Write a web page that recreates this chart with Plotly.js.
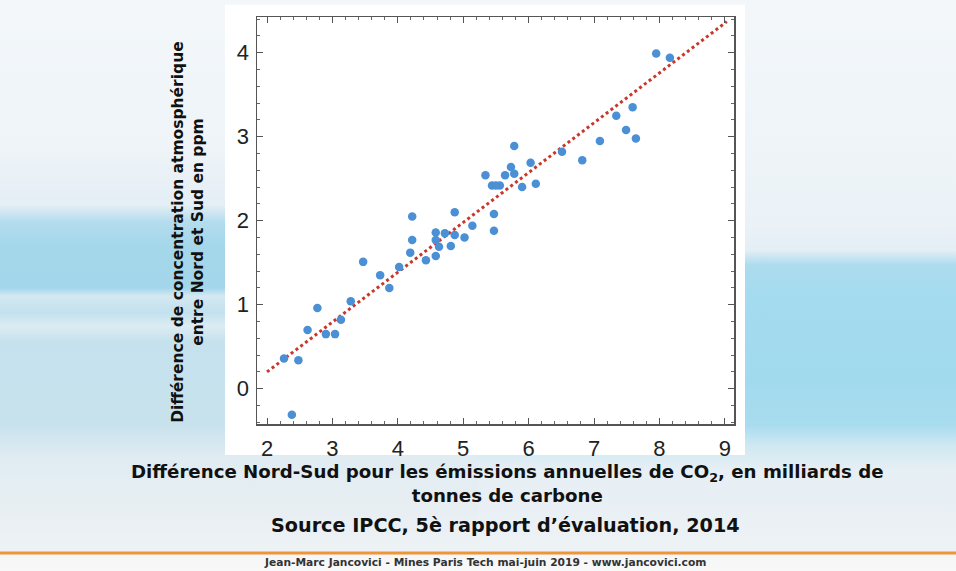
<!DOCTYPE html>
<html>
<head>
<meta charset="utf-8">
<script src="https://cdn.plot.ly/plotly-3.0.1.min.js"></script>
<style>
  html, body { margin: 0; padding: 0; }
  #chart {
    width: 956px; height: 571px;
    background-color: #eef3f6;
    background-image:
      linear-gradient(to bottom,
        #f3f7fa 0px, #eef4f8 150px, #e4eef5 205px, #b4dcee 222px,
        #a5d7eb 245px, #a3d6ea 288px, #d4e9f2 296px, #c2e1ee 312px,
        #dcecf3 326px, #c4e1ed 342px, #c6e2ee 380px, #c8e2ed 425px,
        #e0ecf2 458px, #e9eff3 520px, #edf2f5 550px, #f6f7f8 556px, #f8f8f8 571px),
      linear-gradient(to bottom,
        #f3f7fa 0px, #eef4f8 150px, #eaf2f7 225px, #e4eef5 250px, #acdcee 265px,
        #a4dbee 300px, #a2daed 380px, #a8dcee 425px, #cfe8f2 445px,
        #e6eff4 470px, #eaf0f4 520px, #edf2f5 550px, #f6f7f8 556px, #f8f8f8 571px);
    background-size: 478px 571px, 478px 571px;
    background-position: 0 0, 478px 0;
    background-repeat: no-repeat;
  }
</style>
</head>
<body>
<div id="chart"></div>
<script>
// Emissions difference North-South (GtC/yr)
const emissionsDiff = [7.95, 8.16, 7.59, 7.34, 7.49, 7.64, 7.09, 5.78, 6.51, 6.82,
  6.03, 5.73, 5.78, 5.64, 5.34, 5.44, 5.50, 5.56, 5.90, 6.11,
  4.22, 4.87, 5.47, 5.47, 5.14, 5.02, 4.87, 4.72, 4.58, 4.58,
  4.63, 4.81, 4.22, 4.19, 4.58, 4.43, 4.02, 3.47, 3.73, 3.87,
  3.28, 2.77, 3.13, 2.62, 2.90, 3.04, 2.26, 2.48, 2.38];
// Concentration difference North-South (ppm)
const concDiff = [3.99, 3.94, 3.35, 3.25, 3.08, 2.98, 2.95, 2.89, 2.82, 2.72,
  2.69, 2.64, 2.56, 2.54, 2.54, 2.42, 2.42, 2.42, 2.40, 2.44,
  2.05, 2.10, 2.08, 1.88, 1.94, 1.80, 1.83, 1.85, 1.86, 1.77,
  1.69, 1.70, 1.77, 1.62, 1.58, 1.53, 1.45, 1.51, 1.35, 1.20,
  1.04, 0.96, 0.82, 0.70, 0.65, 0.65, 0.36, 0.34, -0.31];
// Regression line end points
const fitX = [2.0, 9.03];
const fitY = [0.20, 4.37];
const xTickVals = [2, 3, 4, 5, 6, 7, 8, 9];
const yTickVals = [0, 1, 2, 3, 4];

const font = 'Liberation Sans, Arial, sans-serif';
const boldFont = 'DejaVu Sans, Liberation Sans, sans-serif';

const traces = [
  {
    x: fitX, y: fitY, type: 'scatter', mode: 'lines',
    line: {color: '#c9372b', width: 3, dash: 'dot'},
    hoverinfo: 'skip', showlegend: false
  },
  {
    x: emissionsDiff, y: concDiff, type: 'scatter', mode: 'markers',
    marker: {color: '#4b8fd5', size: 8.5},
    showlegend: false
  }
];

const axisCommon = {
  showgrid: false, zeroline: false,
  showline: true, linecolor: '#555', linewidth: 1.5, mirror: 'ticks',
  ticks: 'inside', ticklen: 6, tickwidth: 1, tickcolor: '#555',
  tickfont: {family: font, size: 22, color: '#222'},
  minor: {dtick: 0.2, ticks: 'inside', ticklen: 3, tickwidth: 1, tickcolor: '#666'}
};

const layout = {
  width: 956, height: 571,
  margin: {l: 257, r: 222, t: 17, b: 147},
  paper_bgcolor: 'rgba(0,0,0,0)',
  plot_bgcolor: '#ffffff',
  xaxis: Object.assign({}, axisCommon, {
    range: [1.847, 9.14], tickvals: xTickVals, ticklabelstandoff: 4
  }),
  yaxis: Object.assign({}, axisCommon, {
    range: [-0.42, 4.425], tickvals: yTickVals, ticklabelstandoff: 2
  }),
  shapes: [
    {type: 'rect', xref: 'paper', yref: 'paper', layer: 'below',
     x0: -0.067, x1: 1.023, y0: -0.076, y1: 1.03,
     fillcolor: '#ffffff', line: {width: 0}},
    {type: 'line', xref: 'paper', yref: 'paper',
     x0: -0.54, x1: 1.47, y0: -0.317, y1: -0.317,
     line: {color: '#f0943a', width: 3}}
  ],
  annotations: [
    {xref: 'paper', yref: 'paper', x: -0.1447, y: 0.472, textangle: -90,
     xanchor: 'center', yanchor: 'middle', showarrow: false,
     text: '<b>Différence de concentration atmosphérique<br>entre Nord et Sud en ppm</b>',
     font: {family: boldFont, size: 15.5, color: '#111'}},
    {xref: 'paper', yref: 'paper', x: 0.526, y: -0.147,
     xanchor: 'center', yanchor: 'middle', showarrow: false,
     text: '<b>Différence Nord-Sud pour les émissions annuelles de CO<sub>2</sub>, en milliards de<br>tonnes de carbone</b>',
     font: {family: boldFont, size: 18.2, color: '#111'}},
    {xref: 'paper', yref: 'paper', x: 0.52, y: -0.2495,
     xanchor: 'center', yanchor: 'middle', showarrow: false,
     text: '<b>Source IPCC, 5è rapport d’évaluation, 2014</b>',
     font: {family: boldFont, size: 19.2, color: '#111'}},
    {xref: 'paper', yref: 'paper', x: 0.477, y: -0.3415,
     xanchor: 'center', yanchor: 'middle', showarrow: false,
     text: '<b>Jean-Marc Jancovici - Mines Paris Tech mai-juin 2019 - www.jancovici.com</b>',
     font: {family: boldFont, size: 10.7, color: '#333'}}
  ]
};

Plotly.newPlot('chart', traces, layout, {displayModeBar: false, staticPlot: true});
</script>
</body>
</html>
